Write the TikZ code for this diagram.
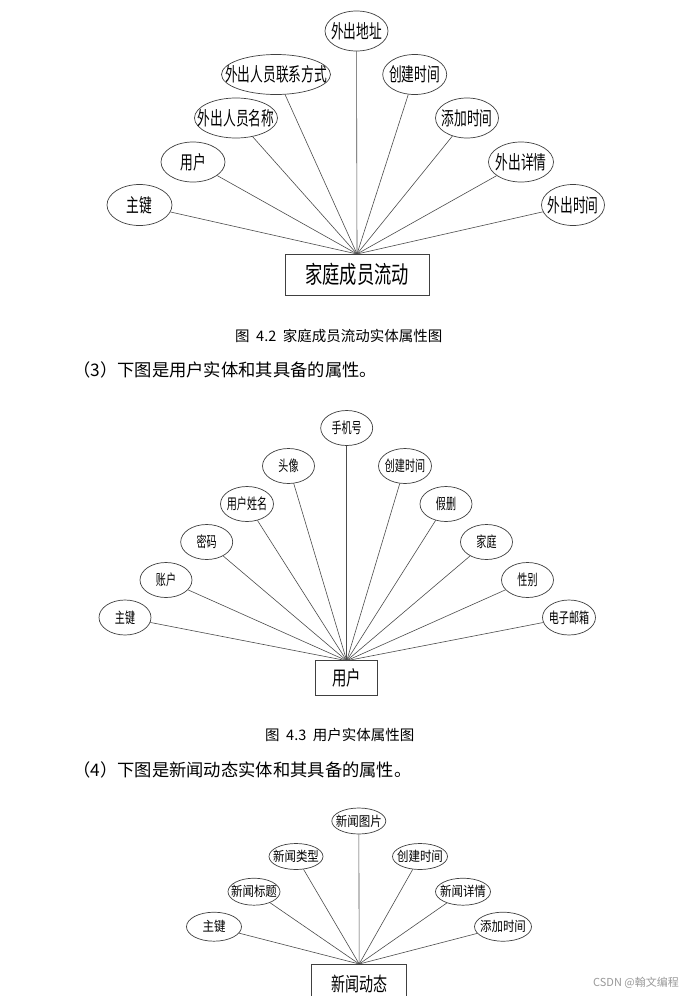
\documentclass[tikz,border=0pt]{standalone}
\usepackage{fontspec}
\setmainfont{Noto Sans CJK SC}
\newfontfamily\cjk{Noto Sans CJK SC}
\newfontfamily\cjka[FakeStretch=0.67]{Noto Sans CJK SC}
\newfontfamily\cjkb[FakeStretch=0.72]{Noto Sans CJK SC}
\newfontfamily\cjkc[FakeStretch=0.85]{Noto Sans CJK SC}
\usetikzlibrary{shapes.geometric}
\newcommand{\zw}[1]{\makebox[0pt]{#1}}
\tikzset{
  attr/.style 2 args={ellipse, draw=black!75, line width=0.7pt, inner sep=0pt,
    minimum width=#1, minimum height=#2},
  ent/.style 2 args={rectangle, draw=black!75, line width=0.7pt, inner sep=0pt,
    minimum width=#1, minimum height=#2},
  conn/.style={draw=black!70, line width=0.6pt},
  fa/.style={font=\cjka\fontsize{19}{19}\selectfont},
  fb/.style={font=\cjka\fontsize{15}{15}\selectfont},
  fc/.style={font=\cjkc\fontsize{13.5}{13.5}\selectfont},
  captxt/.style={font=\cjk\fontsize{14.5}{14.5}\selectfont, anchor=west, inner sep=0pt},
  bodytxt/.style={font=\cjk\fontsize{17.3}{17.3}\selectfont, anchor=west, inner sep=0pt},
}
\begin{document}
\begin{tikzpicture}[x=1pt, y=-1pt]
\useasboundingbox (0,0) rectangle (697,996);
\fill[white] (0,0) rectangle (697,996);

% ---------- Diagram 1 ----------
\node[ent={144}{41}, font=\cjkb\fontsize{24}{24}\selectfont] (e1) at (357,274.5) {家庭成员流动};
\coordinate (p1) at (357,254);
\node[attr={63}{40}, fa] (a1) at (356.5,31) {\zw{外出地址}};
\node[attr={109}{40}, fa] (a2) at (276,74.5) {\zw{外出人员联系方式}};
\node[attr={64}{40}, fa] (a3) at (414.7,74.5) {\zw{创建时间}};
\node[attr={83}{40}, fa] (a4) at (236,118) {\zw{外出人员名称}};
\node[attr={63}{40}, fa] (a5) at (467,118) {\zw{添加时间}};
\node[attr={64}{40}, fa] (a6) at (193,162) {\zw{用户}};
\node[attr={65}{40}, fa] (a7) at (521,162) {\zw{外出详情}};
\node[attr={65}{41}, fa] (a8) at (139.5,205) {\zw{主键}};
\node[attr={63}{41}, fa] (a9) at (573,205) {\zw{外出时间}};
\foreach \n in {a1,a2,a3,a4,a5,a6,a7,a8,a9} \draw[conn] (p1) -- (\n);

\node[captxt] (c1) at (235,336) {图\hspace{0.45em}4.2\hspace{0.45em}家庭成员流动实体属性图};
\node[bodytxt] (t1) at (73,370) {（3）下图是用户实体和其具备的属性。};

% ---------- Diagram 2 ----------
\node[ent={62}{35}, font=\cjkb\fontsize{20}{20}\selectfont] (e2) at (346.7,678.2) {用户};
\coordinate (p2) at (346.7,660.7);
\node[attr={52}{35}, fb] (b1) at (346.7,428) {\zw{手机号}};
\node[attr={52}{35}, fb] (b2) at (288.5,466) {\zw{头像}};
\node[attr={53}{35}, fb] (b3) at (405,466) {\zw{创建时间}};
\node[attr={53}{35}, fb] (b4) at (247,504) {\zw{用户姓名}};
\node[attr={52}{35}, fb] (b5) at (446,504) {\zw{假删}};
\node[attr={52}{35}, fb] (b6) at (206.7,542) {\zw{密码}};
\node[attr={52}{35}, fb] (b7) at (486.5,542) {\zw{家庭}};
\node[attr={52}{35}, fb] (b8) at (166,580) {\zw{账户}};
\node[attr={52}{35}, fb] (b9) at (527.5,580) {\zw{性别}};
\node[attr={52}{35}, fb] (b10) at (125,617.5) {\zw{主键}};
\node[attr={53}{35}, fb] (b11) at (569,617.5) {\zw{电子邮箱}};
\foreach \n in {b1,b2,b3,b4,b5,b6,b7,b8,b9,b10,b11} \draw[conn] (p2) -- (\n);

\node[captxt] (c2) at (265,735) {图\hspace{0.45em}4.3\hspace{0.45em}用户实体属性图};
\node[bodytxt] (t2) at (73,770) {（4）下图是新闻动态实体和其具备的属性。};

% ---------- Diagram 3 ----------
\node[ent={95}{40}, font=\cjkb\fontsize{19.5}{19.5}\selectfont] (e3) at (359.2,984) {新闻动态};
\coordinate (p3) at (359.2,964);
\node[attr={54}{26}, fc] (d1) at (358.8,821) {\zw{新闻图片}};
\node[attr={54}{26}, fc] (d2) at (296,856.5) {\zw{新闻类型}};
\node[attr={55}{26}, fc] (d3) at (420,856.5) {\zw{创建时间}};
\node[attr={52}{27}, fc] (d4) at (254,891.7) {\zw{新闻标题}};
\node[attr={55}{27}, fc] (d5) at (463,891.7) {\zw{新闻详情}};
\node[attr={55}{29}, fc] (d6) at (214,926.7) {\zw{主键}};
\node[attr={57}{29}, fc] (d7) at (503,926.7) {\zw{添加时间}};
\foreach \n in {d1,d2,d3,d4,d5,d6,d7} \draw[conn] (p3) -- (\n);

\node[font=\cjk\fontsize{11}{11}\selectfont, text=black!40, anchor=west, inner sep=0pt] (wm) at (593,983) {CSDN @翰文编程};
\end{tikzpicture}
\end{document}
